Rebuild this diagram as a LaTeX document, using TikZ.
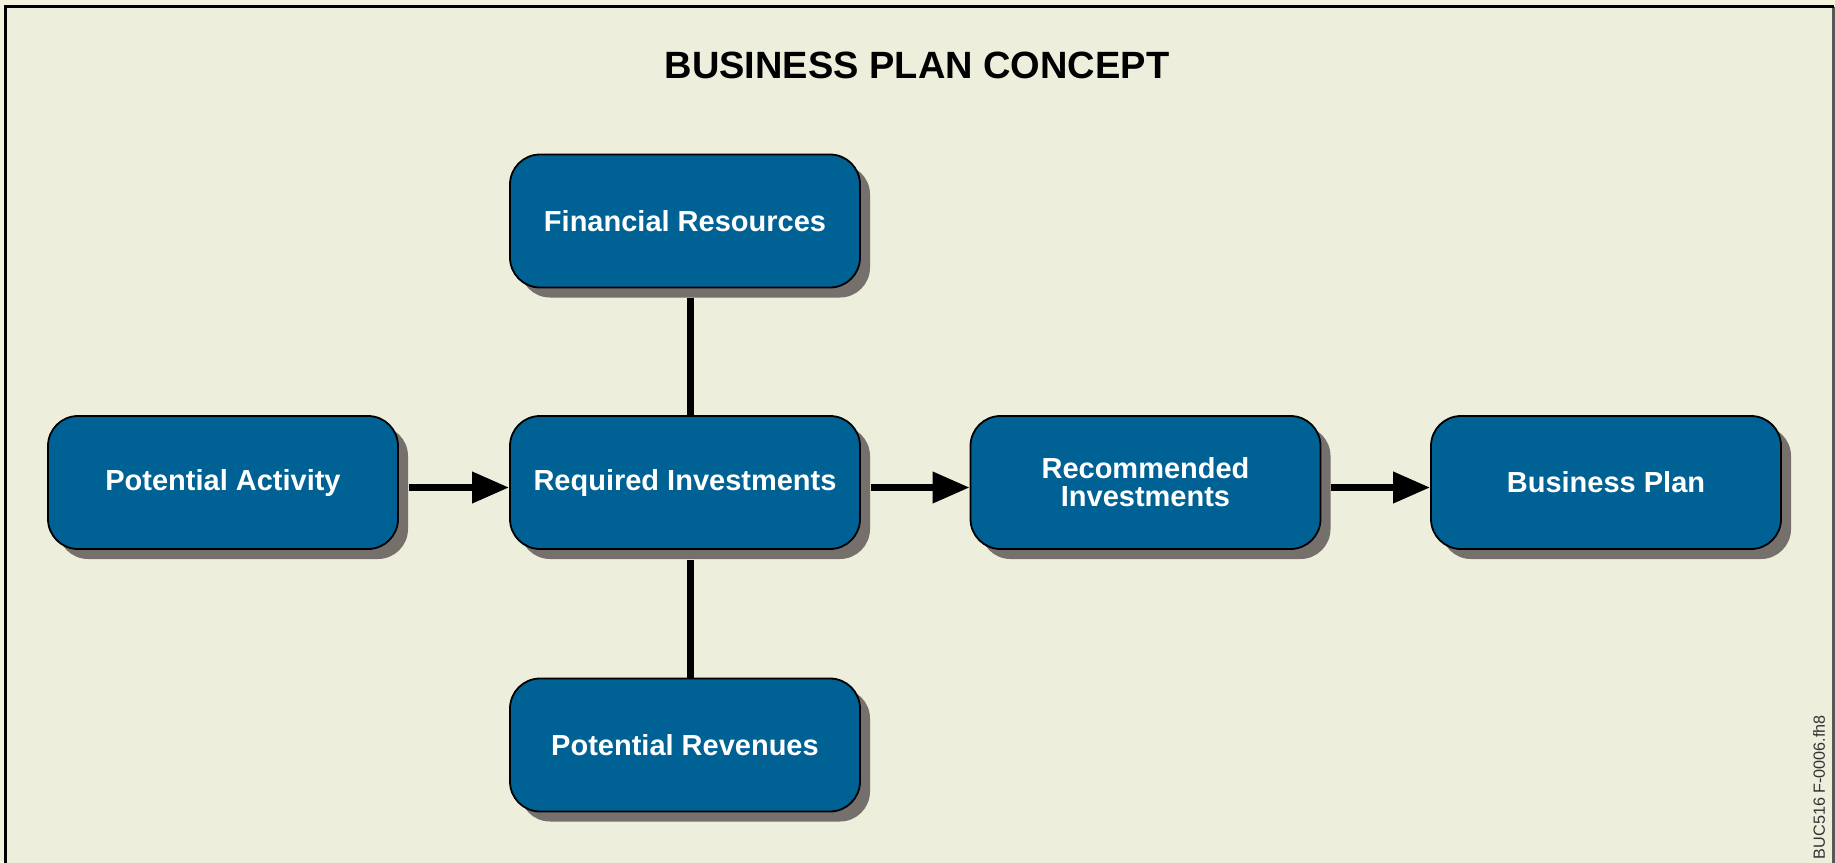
\documentclass[tikz,border=0pt]{standalone}
\usepackage{fontspec}
\setmainfont{Liberation Sans}
\usepackage{tikz}
\usetikzlibrary{arrows.meta,shadows}
\definecolor{pagecream}{RGB}{244,241,221}
\definecolor{panelcream}{RGB}{237,238,220}
\definecolor{stageblue}{RGB}{0,97,149}
\definecolor{shadowgray}{RGB}{118,112,108}
\definecolor{framegray}{RGB}{88,88,86}

\begin{document}
\begin{tikzpicture}[x=0.5pt,y=0.5pt]
                    \tikzstyle{stage}=[draw=black, line width=0.9pt, fill=stageblue, rounded corners=15pt,
                        minimum width=175pt, minimum height=66.5pt, inner sep=0pt, align=center,
                        text=white, font=\fontsize{14.5}{14}\selectfont\bfseries,
                        general shadow={shadow xshift=5pt, shadow yshift=-5pt, fill=shadowgray}]
                    \tikzstyle{link}=[line width=3.5pt, black]
                    \tikzstyle{flow}=[link, -{Triangle[length=18.5pt,width=15pt]}]
                    \useasboundingbox (0,0) rectangle (1835,-862);
                    \fill [pagecream] (0,0) rectangle (1835,-862);
                    \fill [panelcream] (5.5,-6.5) rectangle (1833.5,-900);
                    \draw [framegray, line width=1.5pt] (1833.5,-6.5) -- (1833.5,-900);
                    \draw [black, line width=1.5pt] (5.5,-900) -- (5.5,-6.5) -- (1833.5,-6.5);
                    \node (title) at (917,-65) {\fontsize{19}{22}\selectfont\bfseries BUSINESS PLAN CONCEPT};
                    \node [stage] (fin) at (685,-221) {Financial Resources};
                    \node [stage] (pa) at (223,-482.5) {Potential Activity};
                    \node [stage] (req) at (685,-482.5) {Required Investments};
                    \node [stage] (rec) at (1145.5,-482.5) {Recommended\\Investments};
                    \node [stage] (bp) at (1606,-482.5) {Business Plan};
                    \node [stage] (rev) at (685,-745) {Potential Revenues};
                    \draw [link] ([xshift=2.5pt,yshift=-5pt]fin.south) -- ([xshift=2.5pt]req.north);
                    \draw [link] ([xshift=2.5pt,yshift=-5pt]req.south) -- ([xshift=2.5pt]rev.north);
                    \draw [flow] ([xshift=5pt,yshift=-2.5pt]pa.east) -- ([yshift=-2.5pt]req.west);
                    \draw [flow] ([xshift=5pt,yshift=-2.5pt]req.east) -- ([yshift=-2.5pt]rec.west);
                    \draw [flow] ([xshift=5pt,yshift=-2.5pt]rec.east) -- ([yshift=-2.5pt]bp.west);
                    \node [rotate=90, text=black!80, font=\fontsize{8.1}{10}\selectfont] (tag) at (1819,-787) {BUC516 F-0006.fh8};
                \end{tikzpicture}
\end{document}
